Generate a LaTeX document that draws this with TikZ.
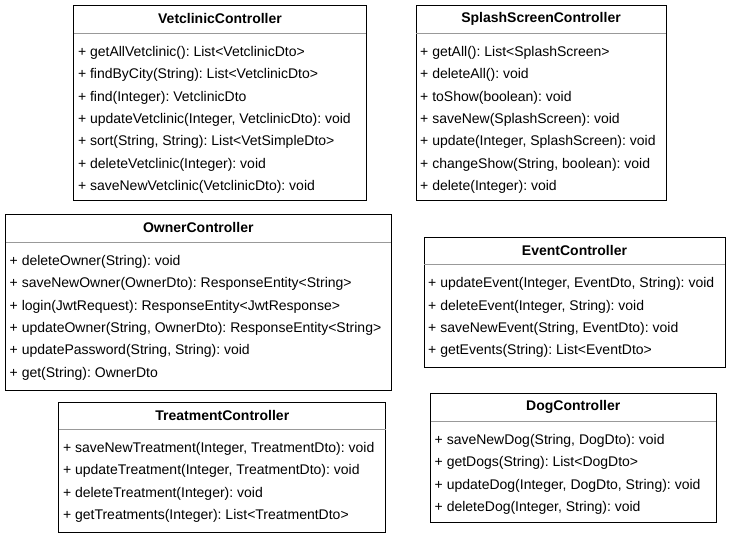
\documentclass[tikz,border=0pt]{standalone}
\usepackage{fontspec}
\setmainfont{Liberation Sans}
\usetikzlibrary{calc}
\frenchspacing
\tikzset{
  classbox/.style={draw=black, line width=1pt, fill=white, inner sep=0pt, anchor=north west},
  ctitle/.style={font=\bfseries\fontsize{14}{16}\selectfont, inner sep=0pt, text=black},
  crow/.style={font=\fontsize{14}{16}\selectfont, anchor=west, inner sep=0pt, text=black},
  cdiv/.style={draw=black!40, line width=1pt}
}
% #1 name, #2 x, #3 y, #4 width, #5 height, #6 title, #7 rows
\newcommand{\umlclass}[7]{%
  \node[classbox, minimum width=#4pt, minimum height=#5pt] (#1) at (#2,#3) {};
  \node[ctitle] (#1-title) at ($(#1.north)+(0,13.5)$) {#6};
  \coordinate (#1-dl) at ($(#1.north west)+(0.5,28.3)$);
  \coordinate (#1-dr) at ($(#1.north east)+(-0.5,28.3)$);
  \draw[cdiv] (#1-dl) -- (#1-dr);
  \foreach \r [count=\i] in {#7} {
    \node[crow] (#1-r\i) at ($(#1.north west)+(4.5,28.3+19+22.4*\i-22.4)$) {\frenchspacing\r};
  }
}
\begin{document}
\begin{tikzpicture}[x=1pt,y=-1pt]
\useasboundingbox[fill=white] (0,0) rectangle (731,537);

\umlclass{vet}{73.3}{5.3}{292.4}{194.7}{VetclinicController}{%
  {+ getAllVetclinic(): List<VetclinicDto>},
  {+ findByCity(String): List<VetclinicDto>},
  {+ find(Integer): VetclinicDto},
  {+ updateVetclinic(Integer, VetclinicDto): void},
  {+ sort(String, String): List<VetSimpleDto>},
  {+ deleteVetclinic(Integer): void},
  {+ saveNewVetclinic(VetclinicDto): void}}

\umlclass{splash}{415.5}{5.3}{250}{194.7}{SplashScreenController}{%
  {+ getAll(): List<SplashScreen>},
  {+ deleteAll(): void},
  {+ toShow(boolean): void},
  {+ saveNew(SplashScreen): void},
  {+ update(Integer, SplashScreen): void},
  {+ changeShow(String, boolean): void},
  {+ delete(Integer): void}}

\umlclass{owner}{5}{214.3}{385.5}{176}{OwnerController}{%
  {+ deleteOwner(String): void},
  {+ saveNewOwner(OwnerDto): ResponseEntity<String>},
  {+ login(JwtRequest): ResponseEntity<JwtResponse>},
  {+ updateOwner(String, OwnerDto): ResponseEntity<String>},
  {+ updatePassword(String, String): void},
  {+ get(String): OwnerDto}}

\umlclass{event}{423.5}{236.7}{301}{130}{EventController}{%
  {+ updateEvent(Integer, EventDto, String): void},
  {+ deleteEvent(Integer, String): void},
  {+ saveNewEvent(String, EventDto): void},
  {+ getEvents(String): List<EventDto>}}

\umlclass{treat}{58.3}{401.5}{327}{130}{TreatmentController}{%
  {+ saveNewTreatment(Integer, TreatmentDto): void},
  {+ updateTreatment(Integer, TreatmentDto): void},
  {+ deleteTreatment(Integer): void},
  {+ getTreatments(Integer): List<TreatmentDto>}}

\umlclass{dog}{430}{393.3}{285.5}{129}{DogController}{%
  {+ saveNewDog(String, DogDto): void},
  {+ getDogs(String): List<DogDto>},
  {+ updateDog(Integer, DogDto, String): void},
  {+ deleteDog(Integer, String): void}}
\end{tikzpicture}
\end{document}
